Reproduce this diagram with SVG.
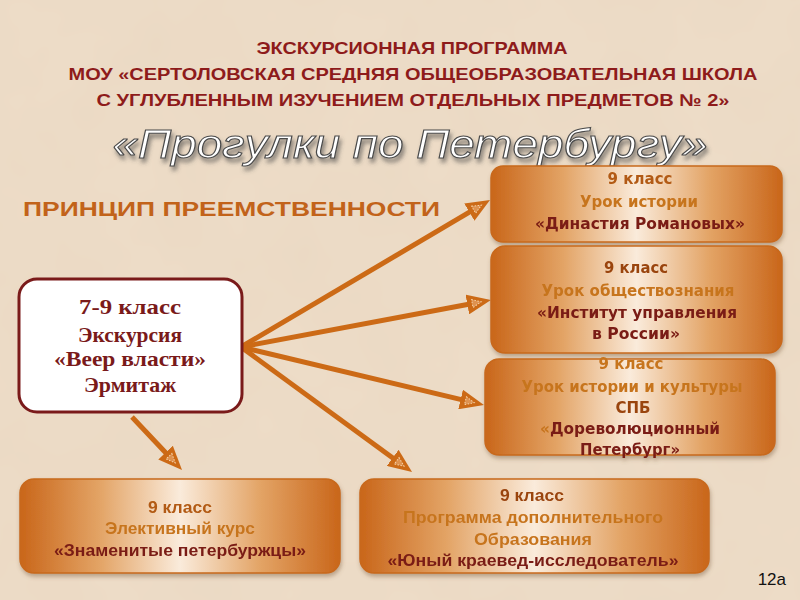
<svg xmlns="http://www.w3.org/2000/svg" width="800" height="600" viewBox="0 0 800 600">
<defs>
<style>
.ttl{font-family:"Liberation Sans Narrow","Liberation Sans",sans-serif;font-weight:bold;font-size:17px;fill:#8E1B1B;text-anchor:middle}
.bx{font-family:"DejaVu Sans","Liberation Sans",sans-serif;font-weight:bold;font-size:15px;text-anchor:middle}
.nb{font-family:"Liberation Sans Narrow","Liberation Sans",sans-serif;font-weight:bold;font-size:17px;text-anchor:middle}
.o1{fill:#B25A12}
.o2{fill:#C7741F}
.dr{fill:#7A1C14}
.br{fill:#9A4410}
.card{fill:url(#cg);stroke:#C8691C;stroke-width:1.5}
.arr{stroke:#CC6A16;stroke-width:5;fill:none;marker-end:url(#ah)}
.srf{font-family:"Liberation Serif",serif;font-weight:bold;font-size:21px;fill:#7A1A1A;text-anchor:middle}
</style>
<linearGradient id="cg" x1="0" y1="0" x2="1" y2="0">
<stop offset="0" stop-color="#C9661A"/>
<stop offset="0.25" stop-color="#E3A466"/>
<stop offset="0.5" stop-color="#FAEBDB"/>
<stop offset="0.75" stop-color="#E3A466"/>
<stop offset="1" stop-color="#C9661A"/>
</linearGradient>
<filter id="tex" x="0" y="0" width="100%" height="100%">
<feTurbulence type="fractalNoise" baseFrequency="0.012" numOctaves="3" seed="4" result="n"/>
<feColorMatrix type="matrix" values="0 0 0 0 0.80  0 0 0 0 0.66  0 0 0 0 0.52  0 0 0 0.55 -0.12" in="n"/>
</filter>
<filter id="sh" x="-10%" y="-10%" width="120%" height="130%">
<feDropShadow dx="1" dy="3" stdDeviation="2" flood-color="#7a5a3a" flood-opacity="0.45"/>
</filter>
<filter id="tsh" x="-5%" y="-20%" width="110%" height="150%">
<feDropShadow dx="2" dy="4" stdDeviation="2" flood-color="#444" flood-opacity="0.6"/>
</filter>
<marker id="ah" viewBox="0 0 24 20" refX="4" refY="10" markerWidth="24" markerHeight="20" markerUnits="userSpaceOnUse" orient="auto">
<path d="M0,0 L24,10 L0,20 Z" fill="#CC6A16"/>
<path d="M5,6 L14,10 L5,14 Z" fill="#DE9250" stroke="#F6D4AC" stroke-width="1" stroke-dasharray="1.5 1.5"/>
</marker>
</defs>

<rect x="0" y="0" width="800" height="600" fill="#EDDCC7"/>
<rect x="0" y="0" width="800" height="600" filter="url(#tex)"/>

<g id="title">
<text class="ttl" x="412" y="54" textLength="311" lengthAdjust="spacingAndGlyphs">ЭКСКУРСИОННАЯ ПРОГРАММА</text>
<text class="ttl" x="413" y="80" textLength="689" lengthAdjust="spacingAndGlyphs">МОУ «СЕРТОЛОВСКАЯ СРЕДНЯЯ ОБЩЕОБРАЗОВАТЕЛЬНАЯ ШКОЛА</text>
<text class="ttl" x="413" y="106" textLength="633" lengthAdjust="spacingAndGlyphs">С УГЛУБЛЕННЫМ ИЗУЧЕНИЕМ ОТДЕЛЬНЫХ ПРЕДМЕТОВ № 2»</text>
<text x="410" y="158" text-anchor="middle" font-family="Liberation Sans, sans-serif" font-style="italic" font-size="41" fill="#FFFFFF" stroke="#4A4A4A" stroke-width="1.1" filter="url(#tsh)" textLength="595" lengthAdjust="spacingAndGlyphs">«Прогулки по Петербургу»</text>
<text x="23" y="216" font-family="Liberation Sans, sans-serif" font-weight="bold" font-size="21" fill="#C2631A" textLength="417" lengthAdjust="spacingAndGlyphs">ПРИНЦИП ПРЕЕМСТВЕННОСТИ</text>
</g>

<g id="connectors">
<line class="arr" x1="241" y1="347" x2="472.8" y2="210.2"/>
<line class="arr" x1="241" y1="347" x2="471.3" y2="303.7"/>
<line class="arr" x1="241" y1="347" x2="464.5" y2="400.4"/>
<line class="arr" x1="241" y1="347" x2="395.9" y2="460.2"/>
<line class="arr" x1="132" y1="417" x2="168.3" y2="455.5"/>
</g>

<g id="n-main">
<rect x="19" y="279" width="223" height="133" rx="18" fill="#FFFFFF" stroke="#7A1A1A" stroke-width="3"/>
<text class="srf" x="130" y="314" textLength="102" lengthAdjust="spacingAndGlyphs">7-9 класс</text>
<text class="srf" x="130" y="342" textLength="104" lengthAdjust="spacingAndGlyphs">Экскурсия</text>
<text class="srf" x="130" y="366" textLength="152" lengthAdjust="spacingAndGlyphs">«Веер власти»</text>
<text class="srf" x="130" y="392" textLength="92" lengthAdjust="spacingAndGlyphs">Эрмитаж</text>
</g>

<g id="n-romanov" filter="url(#sh)">
<rect class="card" x="491" y="166" width="291" height="76" rx="12"/>
<text class="bx o1" x="640" y="184" textLength="65" lengthAdjust="spacingAndGlyphs">9 класс</text>
<text class="bx o2" x="639" y="207" textLength="118" lengthAdjust="spacingAndGlyphs">Урок истории</text>
<text class="bx dr" x="640" y="229" textLength="210" lengthAdjust="spacingAndGlyphs">«Династия Романовых»</text>
</g>

<g id="n-institut" filter="url(#sh)">
<rect class="card" x="491" y="246" width="291" height="107" rx="14"/>
<text class="bx br" x="636" y="273" textLength="64" lengthAdjust="spacingAndGlyphs">9 класс</text>
<text class="bx o2" x="638" y="296" textLength="193" lengthAdjust="spacingAndGlyphs">Урок обществознания</text>
<text class="bx dr" x="637" y="318" textLength="200" lengthAdjust="spacingAndGlyphs">«Институт управления</text>
<text class="bx dr" x="636" y="339" textLength="88" lengthAdjust="spacingAndGlyphs">в России»</text>
</g>

<g id="n-spb" filter="url(#sh)">
<rect class="card" x="485" y="359" width="290" height="96" rx="14"/>
<text class="bx o2" x="631" y="369" textLength="65" lengthAdjust="spacingAndGlyphs">9 класс</text>
<text class="bx o2" x="632" y="392" textLength="221" lengthAdjust="spacingAndGlyphs">Урок истории и культуры</text>
<text class="bx br" x="633" y="413">СПБ</text>
<text class="bx dr" x="630" y="434" textLength="180" lengthAdjust="spacingAndGlyphs"><tspan class="o2">«</tspan>Дореволюционный</text>
<text class="bx dr" x="630" y="455" textLength="100" lengthAdjust="spacingAndGlyphs">Петербург»</text>
</g>

<g id="n-elective" filter="url(#sh)">
<rect class="card" x="20" y="479" width="320" height="94" rx="14"/>
<text class="nb o1" x="180" y="513" textLength="64" lengthAdjust="spacingAndGlyphs">9 класс</text>
<text class="nb o2" x="180" y="534" textLength="150" lengthAdjust="spacingAndGlyphs">Элективный курс</text>
<text class="nb dr" x="180" y="556" textLength="252" lengthAdjust="spacingAndGlyphs">«Знаменитые петербуржцы»</text>
</g>

<g id="n-kraeved" filter="url(#sh)">
<rect class="card" x="360" y="479" width="349" height="94" rx="14"/>
<text class="nb br" x="532" y="501" textLength="64" lengthAdjust="spacingAndGlyphs">9 класс</text>
<text class="nb o2" x="533" y="523" textLength="260" lengthAdjust="spacingAndGlyphs">Программа дополнительного</text>
<text class="nb o2" x="533" y="545" textLength="118" lengthAdjust="spacingAndGlyphs">Образования</text>
<text class="nb dr" x="533" y="566" textLength="291" lengthAdjust="spacingAndGlyphs">«Юный краевед-исследователь»</text>
</g>

<text x="786" y="585" text-anchor="end" font-family="Liberation Sans Narrow, Liberation Sans, sans-serif" font-size="17" fill="#111">12а</text>
</svg>
